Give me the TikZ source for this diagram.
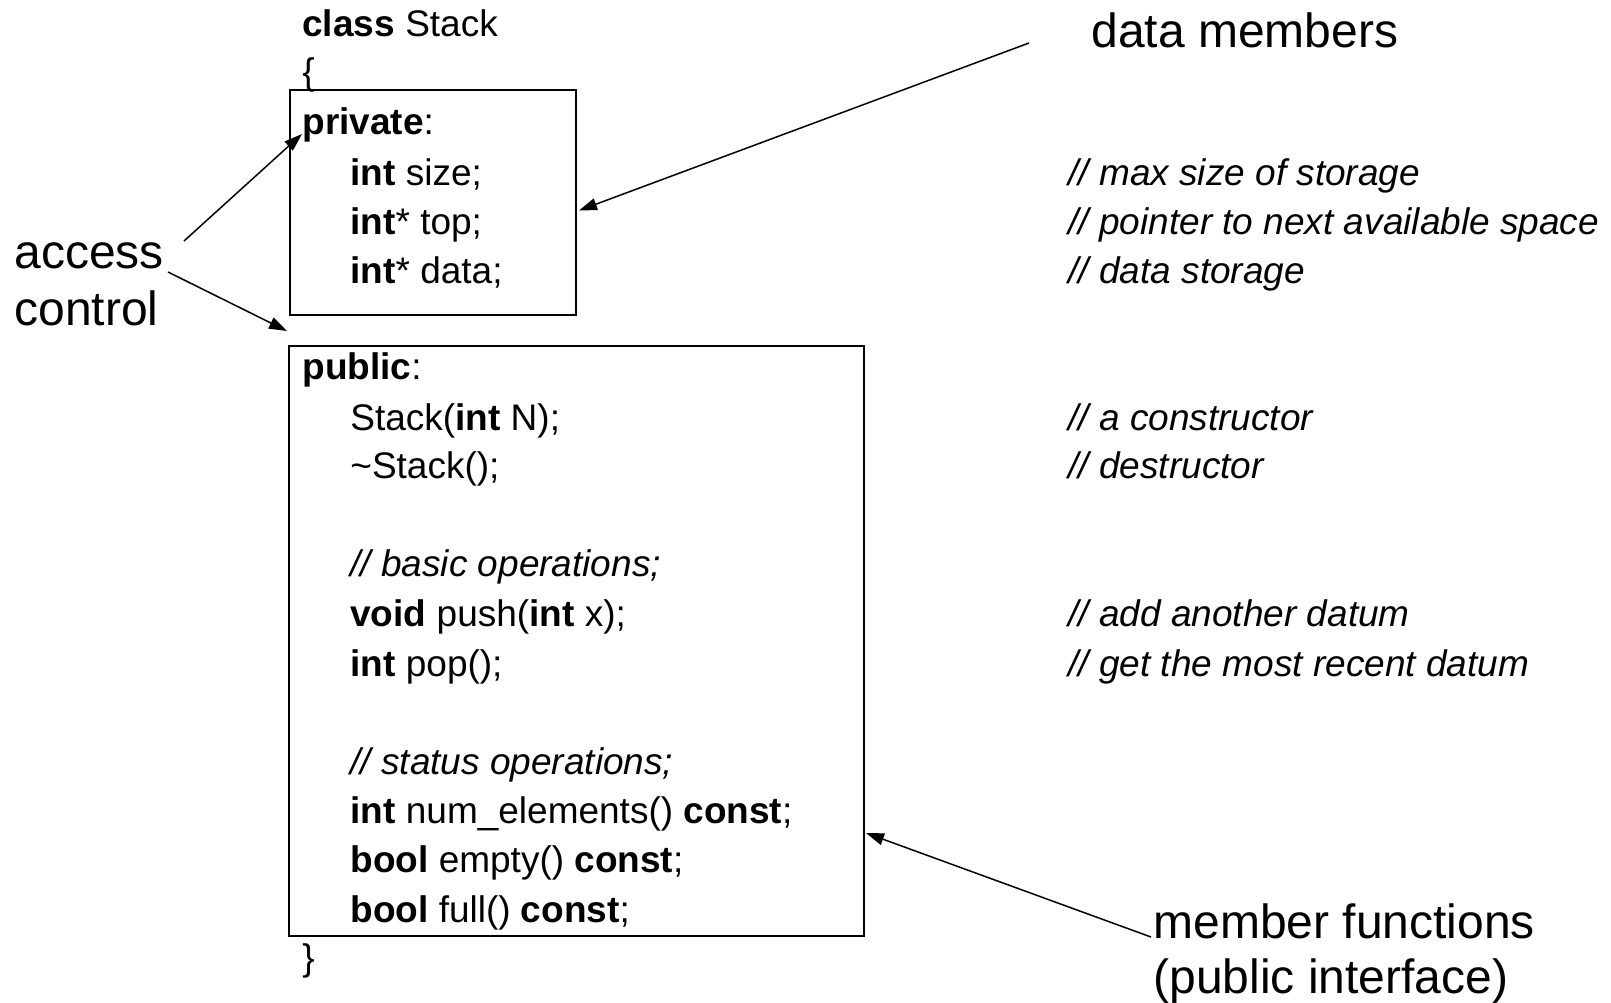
\documentclass[tikz,border=0pt]{standalone}
\usepackage{fontspec}
\setmainfont{Liberation Sans}
\usetikzlibrary{arrows.meta}

\tikzset{
    code/.style={anchor=base west, inner sep=0pt, font=\fontsize{18.5}{20}\selectfont},
    remark/.style={code, font=\fontsize{18.5}{20}\selectfont\itshape},
    bigtext/.style={anchor=base west, inner sep=0pt, font=\fontsize{24}{28}\selectfont},
    codebox/.style={draw, line width=1pt, inner sep=0pt},
    pointer/.style={-{Triangle[length=9pt,width=6pt]}, line width=0.75pt},
}

\begin{document}
\begin{tikzpicture}[x=0.5pt, y=-0.5pt]
    \useasboundingbox (0,0) rectangle (1611,1002);

    % boxes
    \node[codebox, minimum width=143pt, minimum height=112.5pt] (privbox) at (433,202.5) {};
    \node[codebox, minimum width=287.5pt, minimum height=295pt] (pubbox) at (576.5,641) {};

    % class header
    \node[code] (cls) at (302,36) {\textbf{class} Stack};
    \node[code] (open) at (302,84) {\{};

    % private part
    \node[code] (priv) at (302,134) {\textbf{private}:};
    \node[code] (size) at (350,185) {\textbf{int} size;};
    \node[code] (top) at (350,234) {\textbf{int}* top;};
    \node[code] (data) at (350,283) {\textbf{int}* data;};

    % public part
    \node[code] (pub) at (302,379) {\textbf{public}:};
    \node[code] (ctor) at (350,430) {Stack(\textbf{int} N);};
    \node[code] (dtor) at (350,478) {\textasciitilde Stack();};
    \node[remark] (basic) at (350,576) {// basic operations;};
    \node[code] (push) at (350,626) {\textbf{void} push(\textbf{int} x);};
    \node[code] (pop) at (350,676) {\textbf{int} pop();};
    \node[remark] (status) at (350,774) {// status operations;};
    \node[code] (numel) at (350,823) {\textbf{int} num\_elements() \textbf{const};};
    \node[code] (empty) at (350,872) {\textbf{bool} empty() \textbf{const};};
    \node[code] (full) at (350,922) {\textbf{bool} full() \textbf{const};};
    \node[code] (close) at (302,970) {\}};

    % comments
    \node[remark] (csize) at (1068,185) {// max size of storage};
    \node[remark] (ctop) at (1068,234) {// pointer to next available space};
    \node[remark] (cdata) at (1068,283) {// data storage};
    \node[remark] (cctor) at (1068,430) {// a constructor};
    \node[remark] (cdtor) at (1068,478) {// destructor};
    \node[remark] (cpush) at (1068,626) {// add another datum};
    \node[remark] (cpop) at (1068,676) {// get the most recent datum};

    % labels
    \node[bigtext] (members) at (1091,47) {data members};
    \node[bigtext] (access) at (14,268) {access};
    \node[bigtext] (control) at (14,325) {control};
    \node[bigtext] (funcs) at (1153,938) {member functions};
    \node[bigtext] (iface) at (1153,993) {(public interface)};

    % pointers
    \coordinate (dmtail) at (1029,43);
    \coordinate (accup) at (184,241);
    \coordinate (acclow) at (168,272);
    \coordinate (mftip) at (866,833);
    \draw[pointer] (dmtail) -- ([shift={(2,8)}]privbox.east);
    \draw[pointer] (accup) -- (priv.base west);
    \draw[pointer] (acclow) -- ([shift={(-1,-14)}]pubbox.north west);
    \draw[pointer] ([shift={(-2,-1)}]funcs.base west) -- (mftip);
\end{tikzpicture}
\end{document}
